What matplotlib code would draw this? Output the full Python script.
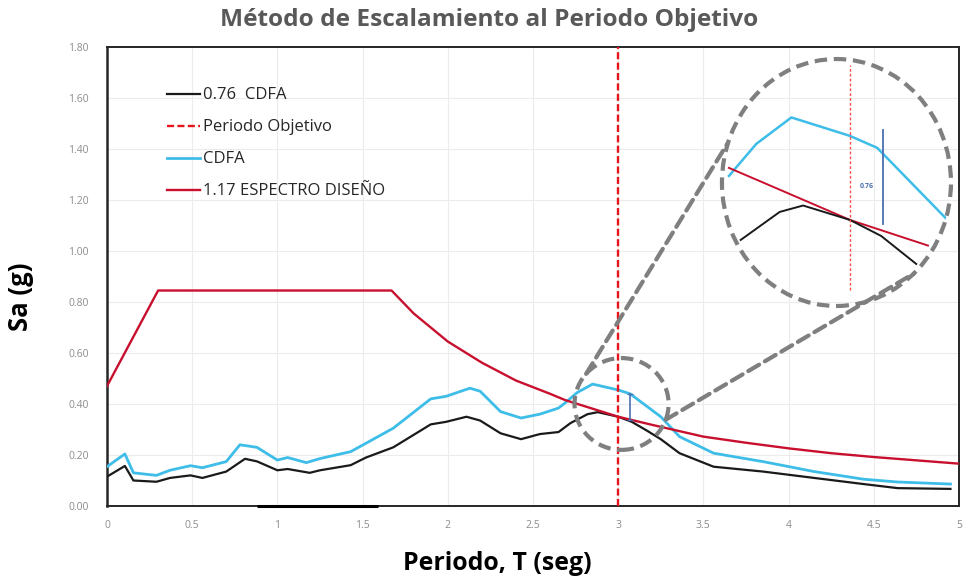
import numpy as np
import matplotlib
matplotlib.use("Agg")
import matplotlib.pyplot as plt
from matplotlib.patches import Ellipse, ConnectionPatch

# scaled record 0.76 CDFA (black)
black_T = [0, 0.105, 0.155, 0.29, 0.37, 0.49, 0.56, 0.70, 0.81, 0.88, 1.0, 1.06, 1.19,
           1.25, 1.43, 1.52, 1.68, 1.90, 1.99, 2.11, 2.19, 2.31, 2.43, 2.54, 2.65, 2.72,
           2.82, 2.88, 3.0, 3.08, 3.17, 3.25, 3.36, 3.56, 3.85, 4.15, 4.44, 4.64, 4.95]
black_sa = [0.115, 0.157, 0.10, 0.095, 0.11, 0.12, 0.11, 0.135, 0.185, 0.175, 0.14, 0.145, 0.13,
            0.14, 0.16, 0.19, 0.23, 0.32, 0.33, 0.35, 0.335, 0.285, 0.262, 0.282, 0.29, 0.325,
            0.36, 0.368, 0.35, 0.33, 0.295, 0.262, 0.207, 0.154, 0.135, 0.11, 0.086, 0.07, 0.067]

# record CDFA (cyan)
cyan_T = [0, 0.105, 0.155, 0.29, 0.37, 0.49, 0.56, 0.70, 0.78, 0.88, 1.0, 1.06, 1.17, 1.25,
          1.43, 1.52, 1.68, 1.90, 1.99, 2.13, 2.19, 2.31, 2.43, 2.54, 2.65, 2.69, 2.76, 2.85,
          3.0, 3.07, 3.17, 3.25, 3.36, 3.56, 3.85, 4.15, 4.44, 4.64, 4.95]
cyan_sa = [0.154, 0.204, 0.13, 0.12, 0.14, 0.158, 0.15, 0.174, 0.24, 0.23, 0.18, 0.19, 0.17, 0.186,
           0.213, 0.246, 0.305, 0.42, 0.43, 0.462, 0.45, 0.37, 0.345, 0.36, 0.384, 0.405, 0.445, 0.478,
           0.455, 0.44, 0.39, 0.35, 0.272, 0.207, 0.174, 0.135, 0.105, 0.094, 0.086]

# 1.17 design spectrum (red)
spec_T = [0, 0.3, 1.67, 1.8, 2.0, 2.2, 2.4, 2.6, 2.69, 2.8, 3.0, 3.2, 3.5, 3.75,
          4.0, 4.25, 4.5, 4.75, 5.0]
spec_sa = [0.47, 0.845, 0.845, 0.755, 0.645, 0.562, 0.492, 0.44, 0.415, 0.392, 0.35, 0.318, 0.272, 0.248,
           0.226, 0.207, 0.192, 0.179, 0.166]

T_target = 3.0
factor_label = "0.76"
ratio_T = 3.07
ratio_sa = [0.337, 0.44]
axis_mark_T = [0.88, 1.59]

# zoomed view
zoom_xlim = (2.672, 3.259)
zoom_ylim = (0.2425, 0.551)
zoom_cyan_range = (2.69, 3.25)
zoom_black_range = (2.72, 3.17)
zoom_spec_range = (2.69, 3.2)
zoom_ratio_T = 3.085
zoom_ratio_sa = [0.345, 0.4625]

C_BLACK = "#1a1a1a"
C_CYAN = "#3dbde8"
C_SPEC = "#c8102e"
C_TARGET = "#e8141c"
C_GREY = "#7f7f7f"
C_BLUE = "#4a6fb0"

plt.rcParams["font.family"] = ["Open Sans", "DejaVu Sans"]

fig = plt.figure(figsize=(9.63, 5.78), dpi=100)
ax = fig.add_axes([0.1111, 0.1246, 0.8847, 0.7941])

ax.plot(black_T, black_sa, color=C_BLACK, lw=1.6, label="0.76  CDFA", zorder=4)
ax.axvline(T_target, color=C_TARGET, lw=1.7, ls=(0, (3, 1.4)), label="Periodo Objetivo", zorder=5)
ax.plot(cyan_T, cyan_sa, color=C_CYAN, lw=2.0, label="CDFA", zorder=3)
ax.plot(spec_T, spec_sa, color=C_SPEC, lw=1.7, label="1.17 ESPECTRO DISEÑO", zorder=4)
ax.plot([ratio_T, ratio_T], ratio_sa, color=C_BLUE, lw=1.2, marker="_", ms=4, zorder=6)
ax.plot(axis_mark_T, [0, 0], color="black", lw=2.2, solid_capstyle="butt", clip_on=False, zorder=6)

ax.set_xlim(0, 5)
ax.set_ylim(0, 1.8)
ax.set_xticks(np.arange(0, 5.01, 0.5))
ax.set_xticklabels(["0", "0.5", "1", "1.5", "2", "2.5", "3", "3.5", "4", "4.5", "5"])
ax.set_yticks(np.arange(0, 1.81, 0.2))
ax.yaxis.set_major_formatter(matplotlib.ticker.FormatStrFormatter("%.2f"))
ax.tick_params(length=0, labelsize=7.5, labelcolor="#8c8c8c")
ax.tick_params(axis="y", pad=13)
ax.tick_params(axis="x", pad=10)
ax.grid(True, color="#ececec", lw=0.8)
ax.set_axisbelow(True)
for s in ax.spines.values():
    s.set_color("#262626")
    s.set_linewidth(1.4)
ax.spines["left"].set_linewidth(1.8)

leg = ax.legend(loc="upper left", bbox_to_anchor=(0.0704, 0.912), frameon=False,
                fontsize=12, handlelength=2.0, handletextpad=0.18, labelspacing=0.96,
                borderpad=0, borderaxespad=0)
for t in leg.get_texts():
    t.set_color("#262626")

# small dashed circle around the target period
small = Ellipse((3.02, 0.40), 0.552, 0.36, fill=False, ec=C_GREY, lw=3,
                ls=(0, (3, 1.6)), zorder=7)
ax.add_patch(small)

# magnified view
ax_in = fig.add_axes([0.7497, 0.4706, 0.2378, 0.4273])
ax_in.set_xlim(*zoom_xlim)
ax_in.set_ylim(*zoom_ylim)
ax_in.axis("off")
ax_in.patch.set_alpha(0)

clip = Ellipse((0.5, 0.5), 1, 1, transform=ax_in.transAxes, fill=False, lw=0)
ax_in.add_patch(clip)


def zoom_line(T, sa, rng, **kw):
    T = np.asarray(T)
    sa = np.asarray(sa)
    m = (T >= rng[0]) & (T <= rng[1])
    ln, = ax_in.plot(T[m], sa[m], **kw)
    ln.set_clip_path(clip)


zoom_line(cyan_T, cyan_sa, zoom_cyan_range, color=C_CYAN, lw=1.8)
zoom_line(spec_T, spec_sa, zoom_spec_range, color=C_SPEC, lw=1.4)
zoom_line(black_T, black_sa, zoom_black_range, color=C_BLACK, lw=1.4)
ax_in.axvline(T_target, ymin=0.065, ymax=0.976, color="#ff4d4d", lw=1.0, ls=(0, (2, 1.5)))
ax_in.plot([zoom_ratio_T, zoom_ratio_T], zoom_ratio_sa, color=C_BLUE, lw=1.3)
ax_in.text(3.044, 0.392, factor_label, color=C_BLUE, fontsize=5, ha="center", va="center",
           fontweight="bold")

big = Ellipse((0.5, 0.5), 1, 1, transform=ax_in.transAxes, fill=False, ec=C_GREY, lw=3,
              ls=(0, (3, 1.6)), clip_on=False)
ax_in.add_patch(big)


def on_small(deg):
    a = np.radians(deg)
    return (3.02 + 0.276 * np.cos(a), 0.40 + 0.18 * np.sin(a))


def on_big(deg):
    a = np.radians(deg)
    return (0.5 + 0.5 * np.cos(a), 0.5 + 0.5 * np.sin(a))


for a_small, a_big in [(139, 161), (-20, -47.5)]:
    con = ConnectionPatch(xyA=on_small(a_small), coordsA=ax.transData,
                          xyB=on_big(a_big), coordsB=ax_in.transAxes,
                          color=C_GREY, lw=3, ls=(0, (3, 1.6)), zorder=7)
    fig.add_artist(con)

fig.text(489 / 963, 1 - 20 / 578, "Método de Escalamiento al Periodo Objetivo",
         ha="center", va="center", fontsize=17.6, fontweight="bold", color="#595959")
fig.text(497 / 963, 1 - 563 / 578, "Periodo, T (seg)", ha="center", va="center",
         fontsize=17.9, fontweight="bold", color="black")
fig.text(20 / 963, 1 - 297 / 578, "Sa (g)", ha="center", va="center", rotation=90,
         fontsize=18.5, fontweight="bold", color="black")

fig.savefig("out.png", dpi=100)
